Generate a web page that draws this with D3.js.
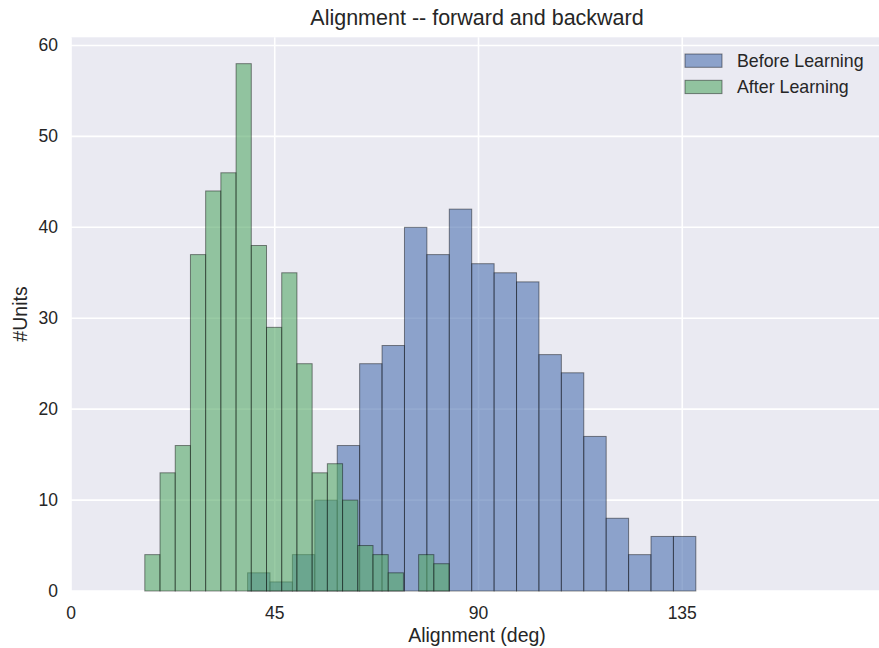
<!DOCTYPE html>
<html>
<head>
<meta charset="utf-8">
<script src="https://cdn.jsdelivr.net/npm/d3@7"></script>
<style>
  body { margin: 0; background: #fff; }
  svg { display: block; }
  text { font-family: "Liberation Sans", Arial, sans-serif; fill: #262626; }
</style>
</head>
<body>
<svg id="chart" width="879" height="648"></svg>
<script>
// histogram counts (20 bins each)
var beforeCounts = [2, 1, 4, 10, 16, 25, 27, 40, 37, 42, 36, 35, 34, 26, 24, 17, 8, 4, 6, 6];
var afterCounts  = [4, 13, 16, 37, 44, 46, 58, 38, 29, 35, 25, 13, 14, 10, 5, 4, 2, 0, 4, 3];
// data range of each histogram (deg)
var beforeRange = [39.0, 138.0];
var afterRange  = [16.3, 83.5];
var xTicks = [0, 45, 90, 135, 180];
var yTicks = [0, 10, 20, 30, 40, 50, 60];
var seriesNames = ["Before Learning", "After Learning"];
var seriesColors = ["#4C72B0", "#55A868"];

var svg = d3.select("#chart");
var plotL = 71, plotR = 886, plotT = 37.3, plotB = 591;

var x = d3.scaleLinear().domain([0, 180]).range([plotL, plotR]);
var y = d3.scaleLinear().domain([0, 58 * 1.05]).range([plotB, plotT]);

// axes background
svg.append("rect")
  .attr("x", plotL).attr("y", plotT)
  .attr("width", plotR - plotL).attr("height", plotB - plotT)
  .attr("fill", "#EAEAF2");

// grid
svg.append("g").selectAll("line").data(xTicks).enter().append("line")
  .attr("x1", d => x(d)).attr("x2", d => x(d))
  .attr("y1", plotT).attr("y2", plotB)
  .attr("stroke", "#fff").attr("stroke-width", 1.6);
svg.append("g").selectAll("line").data(yTicks).enter().append("line")
  .attr("x1", plotL).attr("x2", plotR)
  .attr("y1", d => y(d)).attr("y2", d => y(d))
  .attr("stroke", "#fff").attr("stroke-width", 1.6);

function makeBins(counts, range) {
  var w = (range[1] - range[0]) / counts.length;
  return counts.map(function(c, i) {
    return {x0: range[0] + i * w, x1: range[0] + (i + 1) * w, n: c};
  });
}

var series = [makeBins(beforeCounts, beforeRange), makeBins(afterCounts, afterRange)];

series.forEach(function(bins, k) {
  svg.append("g").selectAll("rect").data(bins.filter(b => b.n > 0)).enter().append("rect")
    .attr("x", d => x(d.x0))
    .attr("width", d => x(d.x1) - x(d.x0))
    .attr("y", d => y(d.n))
    .attr("height", d => y(0) - y(d.n))
    .attr("fill", seriesColors[k]).attr("fill-opacity", 0.6)
    .attr("stroke", "#000").attr("stroke-opacity", 0.45).attr("stroke-width", 1);
});

// tick labels
svg.append("g").selectAll("text").data(xTicks.slice(0, 4)).enter().append("text")
  .attr("x", d => x(d)).attr("y", 619)
  .attr("text-anchor", "middle").style("font-size", "17.5px")
  .text(d => d);
svg.append("g").selectAll("text").data(yTicks).enter().append("text")
  .attr("x", 58).attr("y", d => y(d) + 6)
  .attr("text-anchor", "end").style("font-size", "17.5px")
  .text(d => d);

// labels
svg.append("text")
  .attr("x", 477).attr("y", 642)
  .attr("text-anchor", "middle").style("font-size", "19.5px")
  .text("Alignment (deg)");
svg.append("text")
  .attr("transform", "translate(27,314) rotate(-90)")
  .attr("text-anchor", "middle").style("font-size", "19.5px")
  .text("#Units");
svg.append("text")
  .attr("x", 477).attr("y", 25)
  .attr("text-anchor", "middle").style("font-size", "21.5px")
  .text("Alignment -- forward and backward");

// legend
var legend = svg.append("g").attr("transform", "translate(685,54)");
seriesNames.forEach(function(name, i) {
  legend.append("rect")
    .attr("x", 0).attr("y", i * 26.3)
    .attr("width", 37).attr("height", 13.3)
    .attr("fill", seriesColors[i]).attr("fill-opacity", 0.6)
    .attr("stroke", "#000").attr("stroke-opacity", 0.45);
  legend.append("text")
    .attr("x", 52).attr("y", i * 26.3 + 13)
    .style("font-size", "17.8px")
    .text(name);
});
</script>
</body>
</html>
